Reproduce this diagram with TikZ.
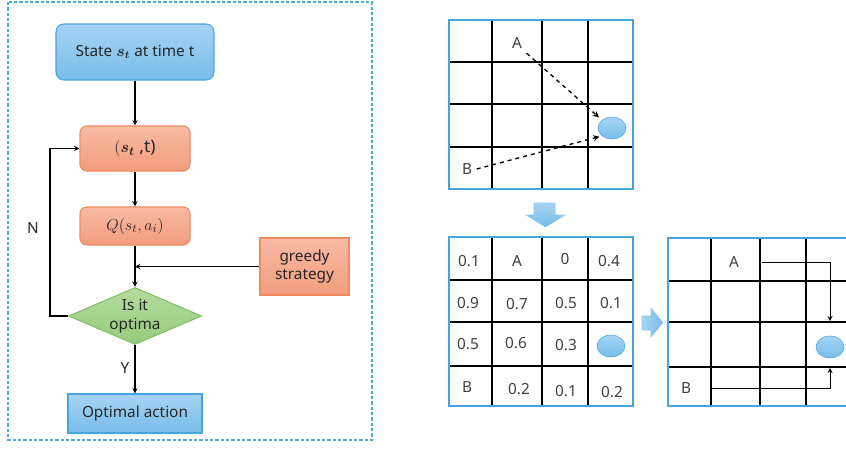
\documentclass[tikz,border=0pt]{standalone}
\usepackage{fontspec}
\setmainfont{Noto Sans}
\usepackage{amsmath}
\usepackage{bm}
\usetikzlibrary{shapes.geometric,arrows}

\definecolor{boxbluetop}{HTML}{A6D4F3}
\definecolor{boxblue}{HTML}{78BCE9}
\definecolor{edgeblue}{HTML}{45A5DD}
\definecolor{salmontop}{HTML}{F8BBA3}
\definecolor{salmon}{HTML}{F29C7E}
\definecolor{edgeorange}{HTML}{EE8A60}
\definecolor{leaftop}{HTML}{B4DC9F}
\definecolor{leaf}{HTML}{96CA7C}
\definecolor{edgegreen}{HTML}{84BE66}
\definecolor{frameblue}{HTML}{4AAEDB}

\begin{document}
\begin{tikzpicture}[x=0.75pt, y=-0.75pt,
    font=\fontsize{11.5}{14}\selectfont,
    box/.style={draw, line width=0.8pt, align=center, text=black!85, inner sep=0pt},
    bluebox/.style={box, draw=edgeblue, top color=boxbluetop, bottom color=boxblue},
    redbox/.style={box, draw=edgeorange, top color=salmontop, bottom color=salmon},
    mathtext/.style={font=\fontsize{13}{15}\selectfont},
    arrow/.style={->, >=stealth, line width=0.8pt},
    walk/.style={->, >=stealth, dashed, line width=1pt},
    cell/.style={text=black!75},
    gridline/.style={line width=1.1pt},
    gridframe/.style={draw=edgeblue, line width=1.2pt},
    goal/.style={ellipse, draw=edgeblue, top color=boxbluetop, bottom color=boxblue,
        minimum width=21pt, minimum height=16.5pt, inner sep=0pt},
    blockarrow/.style={draw=edgeblue!60, line width=0.4pt}]

    \useasboundingbox (0,0) rectangle (846,450);

    % Q-learning loop
    \draw[frameblue, line width=0.9pt, dash pattern=on 2.5pt off 1.5pt] (8,2) rectangle (372,440);

    \node[bluebox, rounded corners=6pt, minimum width=118.5pt, minimum height=42pt] (state) at (135,52) {State {\large$\bm{s_t}$} at time t};
    \node[redbox, rounded corners=5pt, minimum width=82.5pt, minimum height=33.75pt, mathtext] (st) at (135,148.5) {$(\bm{s_t}$ ,t)};
    \node[redbox, rounded corners=5pt, minimum width=82.5pt, minimum height=28.5pt, mathtext] (q) at (135,226) {$Q(s_t, a_i)$};
    \node[redbox, minimum width=66.75pt, minimum height=42.75pt] (greedy) at (304.5,266.5) {greedy\\strategy};
    \node[box, diamond, aspect=2.33, draw=edgegreen, top color=leaftop, bottom color=leaf,
        minimum width=99.75pt, minimum height=42.75pt] (optima) at (135,316) {Is it\\optima};
    \node[bluebox, minimum width=100.5pt, minimum height=29.25pt] (action) at (135,413.5) {Optimal action};
    \coordinate (merge) at (135,266.5);

    \draw[arrow] (state) -- (st);
    \draw[arrow] (st) -- (q);
    \draw[arrow] (q) -- (optima);
    \draw[arrow] (greedy) -- (merge);
    \draw[arrow] (optima.west) -- ++(-18,0) |- (st.west);
    \draw[arrow] (optima) -- (action);

    \node[text=black!85] (no) at (33,228) {N};
    \node[text=black!85] (yes) at (125,368) {Y};

    % Grid 1: starting positions
    \draw[gridline] (492,20) -- (492,189) (542,20) -- (542,189) (588,20) -- (588,189);
    \draw[gridline] (449,62) -- (633,62) (449,104) -- (633,104) (449,147) -- (633,147);
    \draw[gridframe] (449,20) rectangle (633,189);
    \node[cell] (a1) at (517,43) {A};
    \node[cell] (b1) at (467,169) {B};
    \node[goal] (goal1) at (612,128) {};
    \draw[walk, shorten >=3pt] (a1.south east) -- (goal1.north west);
    \draw[walk, shorten >=2pt] (b1.east) -- (goal1.south west);

    % step down
    \draw[blockarrow, top color=boxbluetop, bottom color=boxblue]
        (534,203) -- (555,203) -- (555,215) -- (565,215) -- (545.5,227) -- (526,215) -- (534,215) -- cycle;

    % Grid 2: values
    \draw[gridline] (492,237) -- (492,406) (542,237) -- (542,406) (588,237) -- (588,406);
    \draw[gridline] (449,280) -- (633,280) (449,322) -- (633,322) (449,366) -- (633,366);
    \draw[gridframe] (449,237) rectangle (633,406);
    \node[cell] (v11) at (469,261) {0.1};
    \node[cell] (a2)  at (517,261) {A};
    \node[cell] (v13) at (565,259) {0};
    \node[cell] (v14) at (609,261) {0.4};
    \node[cell] (v21) at (468,303) {0.9};
    \node[cell] (v22) at (517,304) {0.7};
    \node[cell] (v23) at (566,303) {0.5};
    \node[cell] (v24) at (611,303) {0.1};
    \node[cell] (v31) at (468,344) {0.5};
    \node[cell] (v32) at (516,343) {0.6};
    \node[cell] (v33) at (566,345) {0.3};
    \node[goal] (goal2) at (611,346) {};
    \node[cell] (b2)  at (467,387) {B};
    \node[cell] (v42) at (519,389) {0.2};
    \node[cell] (v43) at (566,391) {0.1};
    \node[cell] (v44) at (612,392) {0.2};

    % step right
    \draw[blockarrow, left color=boxbluetop, right color=boxblue]
        (642,316) -- (651,316) -- (651,308) -- (663,322.5) -- (651,337) -- (651,330) -- (642,330) -- cycle;

    % Grid 3: chosen paths
    \draw[gridline] (711,238) -- (711,406) (760,238) -- (760,406) (806,238) -- (806,406);
    \draw[gridline] (668,281) -- (846,281) (668,322) -- (846,322) (668,367) -- (846,367);
    \draw[gridframe] (846,238) -- (668,238) -- (668,406) -- (846,406);
    \node[cell] (a3) at (734,262) {A};
    \node[cell] (b3) at (686,388) {B};
    \node[goal] (goal3) at (830,347) {};
    \coordinate (a3out) at (762,262);
    \coordinate (a3in) at (830,321);
    \coordinate (b3out) at (712,388);
    \coordinate (b3in) at (830,368);
    \draw[arrow, line width=0.7pt] (a3out) -| (a3in);
    \draw[arrow, line width=0.7pt] (b3out) -| (b3in);
\end{tikzpicture}
\end{document}
